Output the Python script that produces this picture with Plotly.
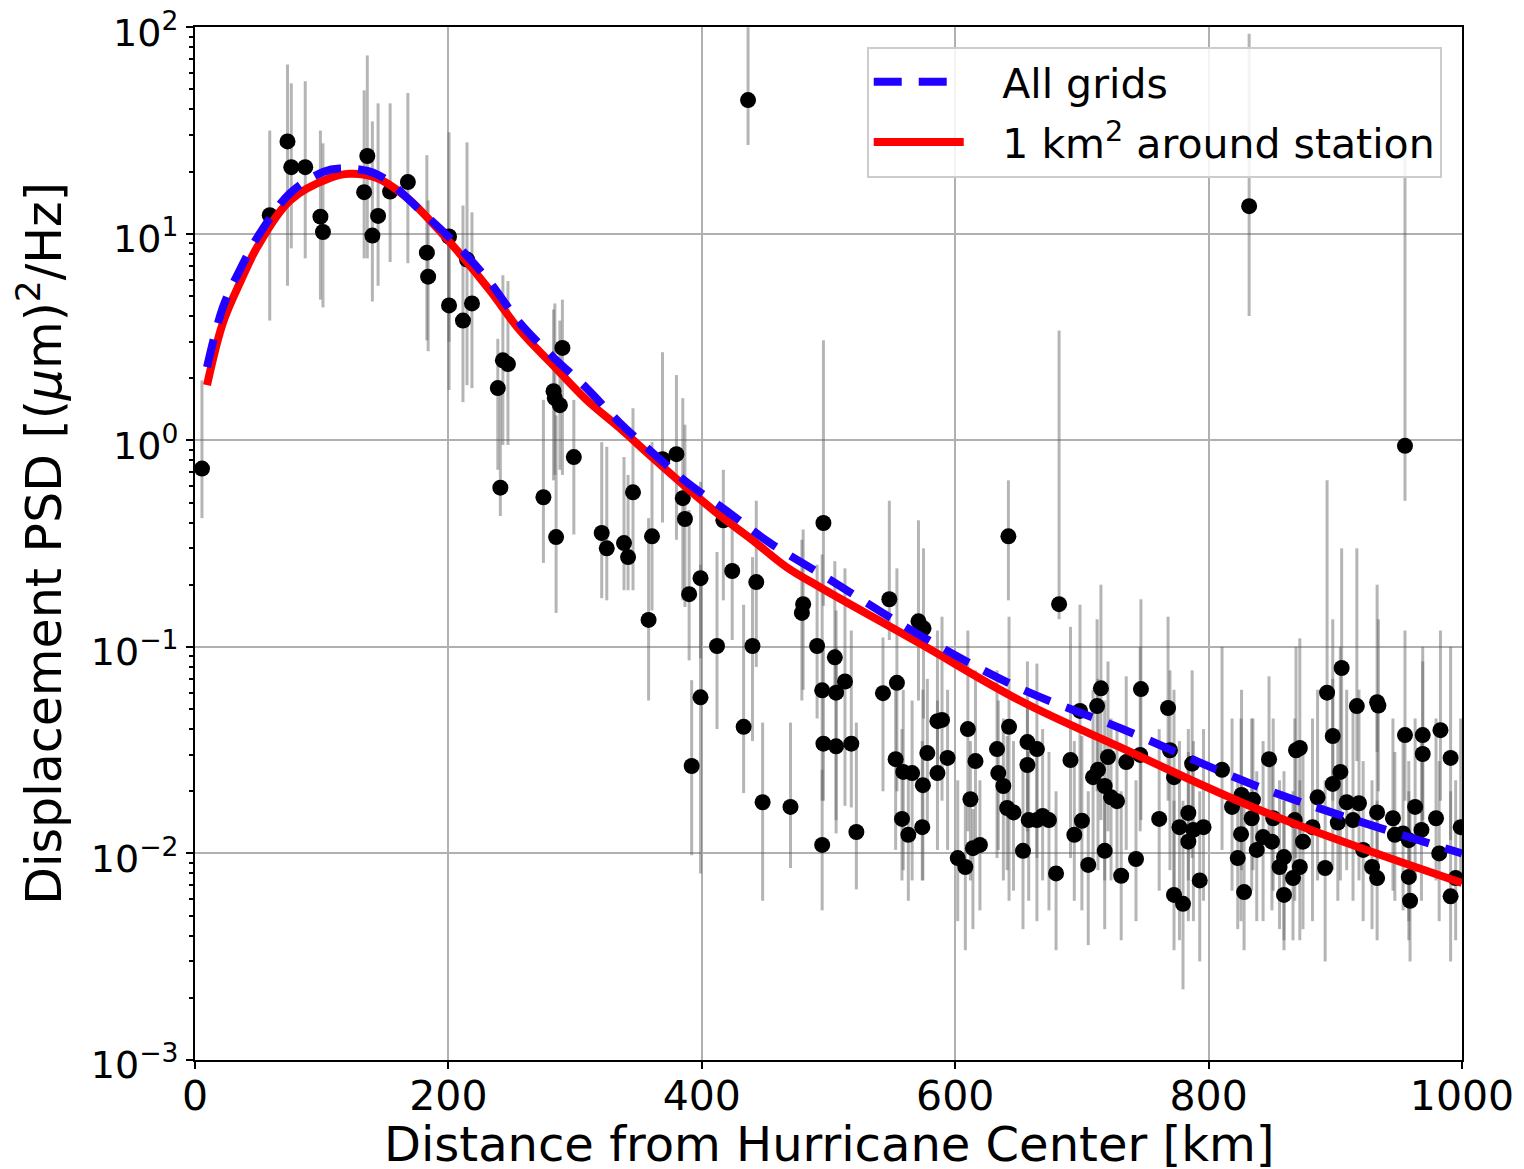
import plotly.graph_objects as go

# --- measured points (distance km, PSD, error bar bottom, error bar top) ---
dist = [5.5, 59, 73, 76, 87, 99, 101, 133.5, 136, 140, 144.5, 154, 168, 183, 184, 200.5, 200.5,
        211.5, 214.7, 218.6, 239, 241, 243, 247, 275, 283, 284, 285, 288, 290, 299, 321, 325,
        338.6, 341.8, 345.7, 358, 360.7, 369, 380, 385, 386.7, 390, 392, 399, 399, 412, 417,
        424, 433, 436.5, 440, 443, 448, 470, 479, 480, 491, 495, 495, 496, 496, 505, 506, 506,
        513, 518, 522, 543, 548, 553, 554, 558, 559, 563, 566, 571, 574, 574.5, 575, 578, 586,
        586, 589.6, 594, 602, 608, 610, 612, 614, 616, 619.5, 633, 634, 638, 641, 642, 642.5,
        646, 653.5, 657, 657, 658, 664.5, 664.5, 669, 674, 679.6, 682, 691, 694, 698.5, 700,
        705, 708.8, 712, 712.7, 715, 718, 718, 720.6, 723, 727.7, 731, 735, 742.7, 746.6, 746,
        761, 768, 769.5, 772.7, 772.7, 777, 779.8, 784, 784, 787, 788, 793, 796, 810.6, 818.5,
        823, 825.6, 826, 828, 832, 834, 835, 838, 843, 847.7, 850, 851, 856, 859.5, 859.5,
        866.6, 868, 869, 872, 872, 874.5, 882, 886, 892, 893.5, 898, 898, 902, 904, 905, 909,
        914, 917, 918.7, 922, 929, 933, 934, 933, 933, 945.5, 947, 953.5, 955, 955, 958, 958,
        959, 963, 968, 969, 969, 979.5, 982, 983, 991, 991, 995, 999]
psd = [0.73, 12.3, 28, 21, 21, 12.1, 10.2, 15.9, 23.8, 9.8, 12.2, 16, 17.8, 8.1, 6.2, 9.7, 4.5,
       3.8, 7.5, 4.6, 1.79, 0.59, 2.44, 2.34, 0.53, 1.73, 1.6, 0.34, 1.48, 2.8, 0.83, 0.356, 0.30,
       0.318, 0.272, 0.56, 0.135, 0.343, 0.81, 0.857, 0.525, 0.416, 0.18, 0.0265, 0.215, 0.057,
       0.101, 0.41, 0.233, 0.041, 44.4, 0.101, 0.206, 0.0177, 0.0168, 0.146, 0.161, 0.101, 0.011,
       0.0616, 0.398, 0.034, 0.089, 0.06, 0.033, 0.068, 0.034, 0.0127, 0.0597, 0.17, 0.0286,
       0.067, 0.0147, 0.0248, 0.0123, 0.0245, 0.133, 0.0134, 0.0214, 0.123, 0.0306, 0.0245,
       0.0437, 0.0443, 0.029, 0.0095, 0.0086, 0.040, 0.0183, 0.0106, 0.028, 0.011, 0.032, 0.0245,
       0.0212, 0.0166, 0.343, 0.041, 0.0158, 0.0103, 0.0346, 0.0268, 0.0145, 0.032, 0.0145,
       0.0152, 0.0145, 0.008, 0.161, 0.0283, 0.0123, 0.049, 0.0144, 0.0088, 0.0234, 0.0517,
       0.0254, 0.063, 0.0212, 0.0103, 0.0293, 0.0187, 0.0179, 0.0078, 0.0277, 0.0094, 0.0625,
       0.03, 0.0147, 0.0506, 0.0316, 0.0234, 0.0063, 0.0134, 0.0057, 0.0157, 0.0114, 0.0272,
       0.013, 0.0074, 0.0134, 0.0254, 0.0168, 0.0095, 0.0124, 0.0192, 0.0065, 13.6, 0.0148,
       0.0182, 0.0104, 0.012, 0.0286, 0.0114, 0.0148, 0.0086, 0.0096, 0.0063, 0.0076, 0.0145,
       0.0316, 0.0324, 0.0086, 0.0114, 0.0134, 0.0187, 0.0085, 0.06, 0.037, 0.0217, 0.0141,
       0.0248, 0.079, 0.0177, 0.0145, 0.0517, 0.0175, 0.0104, 0.0086, 0.054, 0.052, 0.0158,
       0.0076, 0.0148, 0.0123, 0.0125, 0.0374, 0.94, 0.0116, 0.0077, 0.0059, 0.0168, 0.013,
       0.0374, 0.0303, 0.0148, 0.01, 0.0395, 0.029, 0.0062, 0.0076, 0.0134]
err_lo = [0.42, 3.8, 5.6, 8.5, 7.6, 4.8, 4.4, 7.6, 7.6, 4.7, 5.6, 7.3, 7.2, 3.05, 2.7, 1.75, 3.0,
          1.53, 1.85, 1.79, 0.72, 0.43, 0.95, 0.95, 0.255, 0.64, 0.68, 0.146, 0.72, 0.68, 0.35,
          0.172, 0.168, 0.188, 0.188, 0.188, 0.055, 0.15, 0.40, 0.33, 0.168, 0.156, 0.086,
          0.0098, 0.088, 0.008, 0.040, 0.168, 0.108, 0.0196, 26.9, 0.035, 0.08, 0.0059, 0.0085,
          0.055, 0.062, 0.045, 0.0053, 0.018, 0.158, 0.018, 0.055, 0.0145, 0.0125, 0.017, 0.0167,
          0.0067, 0.02, 0.108, 0.0104, 0.02, 0.0074, 0.0083, 0.0059, 0.0074, 0.055, 0.0074,
          0.0074, 0.045, 0.0128, 0.0104, 0.0254, 0.018, 0.0104, 0.0047, 0.0034, 0.0128, 0.0074,
          0.0043, 0.0116, 0.0053, 0.0095, 0.0104, 0.0074, 0.0083, 0.168, 0.0059, 0.0066, 0.0043,
          0.0128, 0.0095, 0.0059, 0.0095, 0.0047, 0.0074, 0.0053, 0.0034, 0.136, 0.0095, 0.0059,
          0.0116, 0.0053, 0.0036, 0.0083, 0.02, 0.0083, 0.0145, 0.0074, 0.0043, 0.0128, 0.0074,
          0.0083, 0.0038, 0.0104, 0.0047, 0.0145, 0.0128, 0.0066, 0.018, 0.0083, 0.0059, 0.0034,
          0.0038, 0.0022, 0.0074, 0.0047, 0.0095, 0.0047, 0.003, 0.0059, 0.0104, 0.0066, 0.0043,
          0.0047, 0.0083, 0.0034, 4.0, 0.0066, 0.0083, 0.0047, 0.0047, 0.0116, 0.0053, 0.0066,
          0.0043, 0.0038, 0.0034, 0.0038, 0.0059, 0.0095, 0.0104, 0.0038, 0.0043, 0.0047, 0.0074,
          0.003, 0.035, 0.018, 0.0083, 0.0059, 0.0074, 0.018, 0.0083, 0.0059, 0.028, 0.0074,
          0.0047, 0.0043, 0.031, 0.02, 0.0074, 0.0038, 0.0066, 0.0059, 0.0053, 0.018, 0.51,
          0.0047, 0.0038, 0.003, 0.0074, 0.0059, 0.0145, 0.0116, 0.0074, 0.0047, 0.018, 0.0116,
          0.003, 0.0038, 0.0074]
err_hi = [1.95, 31.6, 66, 53.5, 54.8, 31.6, 27.4, 49.5, 73, 35, 42.8, 42.8, 48, 24, 14.5, 31, 10.4,
          13.7, 27.7, 12.7, 3.1, 1.66, 6.3, 5.9, 1.57, 4.3, 4.6, 1.32, 3.8, 4.8, 1.57, 0.98, 0.93,
          0.83, 0.68, 1.43, 0.42, 0.98, 2.67, 2.07, 1.6, 1.19, 0.46, 0.069, 0.63, 0.25, 0.288,
          0.72, 0.45, 0.16, 100, 0.272, 0.51, 0.043, 0.043, 0.33, 0.37, 0.25, 0.0254, 0.28, 3.05,
          0.097, 0.26, 0.15, 0.1, 0.24, 0.12, 0.043, 0.111, 0.51, 0.065, 0.24, 0.04, 0.062, 0.025,
          0.055, 0.41, 0.035, 0.062, 0.3, 0.07, 0.055, 0.12, 0.14, 0.062, 0.0226, 0.018, 0.12,
          0.035, 0.0164, 0.077, 0.0226, 0.077, 0.055, 0.045, 0.037, 0.64, 0.14, 0.035, 0.028,
          0.085, 0.055, 0.031, 0.083, 0.035, 0.04, 0.031, 0.02, 3.4, 0.125, 0.035, 0.16, 0.037,
          0.02, 0.062, 0.136, 0.07, 0.2, 0.055, 0.0226, 0.085, 0.045, 0.04, 0.02, 0.072, 0.0226,
          0.17, 0.1, 0.04, 0.14, 0.077, 0.062, 0.018, 0.035, 0.018, 0.04, 0.031, 0.077, 0.035,
          0.02, 0.04, 0.1, 0.045, 0.0226, 0.045, 0.062, 0.02, 93, 0.045, 0.045, 0.025, 0.035,
          0.072, 0.031, 0.045, 0.0226, 0.025, 0.018, 0.02, 0.045, 0.1, 0.11, 0.0226, 0.031, 0.045,
          0.062, 0.0226, 0.64, 0.136, 0.07, 0.04, 0.1, 0.3, 0.062, 0.055, 0.3, 0.062, 0.028,
          0.0226, 0.2, 0.136, 0.055, 0.018, 0.045, 0.031, 0.035, 0.12, 26.9, 0.028, 0.02, 0.018,
          0.045, 0.035, 0.1, 0.085, 0.045, 0.028, 0.12, 0.1, 0.02, 0.0226, 0.045]

# --- fitted curves ---
fit_all_x = [9.5, 22, 35.5, 51, 75, 101, 114, 143.6, 180, 206.8, 233, 256.5, 282.6, 309, 335,
             361.5, 388, 422, 454, 493, 572, 651, 730, 846, 1000]
fit_all_y = [2.26, 4.4, 6.7, 10, 15.7, 19.9, 20.7, 19.4, 12.6, 8.8, 5.8, 3.69, 2.53, 1.79, 1.22,
             0.867, 0.628, 0.444, 0.318, 0.227, 0.114, 0.063, 0.0405, 0.0203, 0.01]
fit_1km_x = [9.5, 22, 35.5, 49, 75, 106.5, 122, 143.6, 167, 185.5, 206.8, 233, 256.5, 282.6, 309,
             335, 361.5, 388, 414, 440, 467, 493, 572, 651, 730, 846, 1000]
fit_1km_y = [1.85, 3.7, 5.8, 8.6, 14.5, 18.6, 19.5, 18.6, 15, 11.6, 8.3, 5.3, 3.4, 2.31, 1.57,
             1.15, 0.82, 0.59, 0.434, 0.329, 0.243, 0.195, 0.104, 0.055, 0.0327, 0.0157, 0.0072]

FONT = "DejaVu Sans"

fig = go.Figure()

fig.add_trace(go.Scatter(
    x=dist, y=psd, mode="markers",
    marker=dict(color="black", size=16),
    error_y=dict(type="data", symmetric=False,
                 array=[h - v for h, v in zip(err_hi, psd)],
                 arrayminus=[v - l for l, v in zip(err_lo, psd)],
                 color="rgba(90,90,90,0.45)", thickness=3, width=0),
    showlegend=False, hoverinfo="skip"))

fig.add_trace(go.Scatter(
    x=fit_1km_x, y=fit_1km_y, mode="lines", line_shape="spline",
    line=dict(color="#ff0000", width=8),
    name="\u2002 1 km<sup>2</sup> around station", legendrank=2, legendgroup="b"))

fig.add_trace(go.Scatter(
    x=fit_all_x, y=fit_all_y, mode="lines", line_shape="spline",
    line=dict(color="#2200ff", width=8, dash="28px,17px"),
    name="\u2002 All grids", legendrank=1, legendgroup="a"))

ytick_vals = [1e-3, 1e-2, 1e-1, 1, 10, 100]
ytick_text = ["10<sup>−3</sup>", "10<sup>−2</sup>", "10<sup>−1</sup>",
              "10<sup>0</sup>", "10<sup>1</sup>", "10<sup>2</sup>"]
minor_vals = [m * 10 ** e for e in range(-3, 2) for m in range(2, 10)]

fig.update_layout(
    width=1524, height=1169,
    margin=dict(l=187, r=70, t=19, b=117, autoexpand=False),
    paper_bgcolor="white", plot_bgcolor="white",
    font=dict(family=FONT, color="black", size=41),
    legend=dict(x=0.984, y=0.981, xanchor="right", yanchor="top",
                bgcolor="rgba(255,255,255,0.85)", bordercolor="#cccccc", borderwidth=2,
                font=dict(size=41), itemwidth=90, tracegroupgap=4),
    annotations=[dict(text="Distance from Hurricane Center [km]", xref="paper", yref="paper",
                      x=0.5, y=-0.081, xanchor="center", yanchor="middle", showarrow=False,
                      font=dict(size=48))],
)

fig.update_xaxes(
    range=[0, 1000], tickvals=[0, 200, 400, 600, 800, 1000], automargin=False,
    showline=True, linecolor="black", linewidth=2, mirror=True,
    ticks="outside", ticklen=7, tickwidth=2, tickcolor="black",
    showgrid=True, gridcolor="#b0b0b0", gridwidth=1.5, zeroline=False,
    tickfont=dict(size=41), ticklabeloverflow="allow", ticklabelstandoff=-8)

fig.update_yaxes(
    type="log", range=[-3, 2.001], tickmode="array", tickvals=ytick_vals, ticktext=ytick_text,
    automargin=False,
    showline=True, linecolor="black", linewidth=2, mirror=True,
    ticks="outside", ticklen=7, tickwidth=2, tickcolor="black",
    minor=dict(tickmode="array", tickvals=minor_vals, ticks="outside", ticklen=4,
               tickwidth=1.5, tickcolor="black", showgrid=False),
    showgrid=True, gridcolor="#b0b0b0", gridwidth=1.5, zeroline=False,
    tickfont=dict(size=38), ticklabeloverflow="allow", ticklabelshift=5,
    title=dict(text="Displacement PSD [(<i>μ</i>m)<sup>2</sup>/Hz]", font=dict(size=49), standoff=14))

fig.write_html("out.html")
